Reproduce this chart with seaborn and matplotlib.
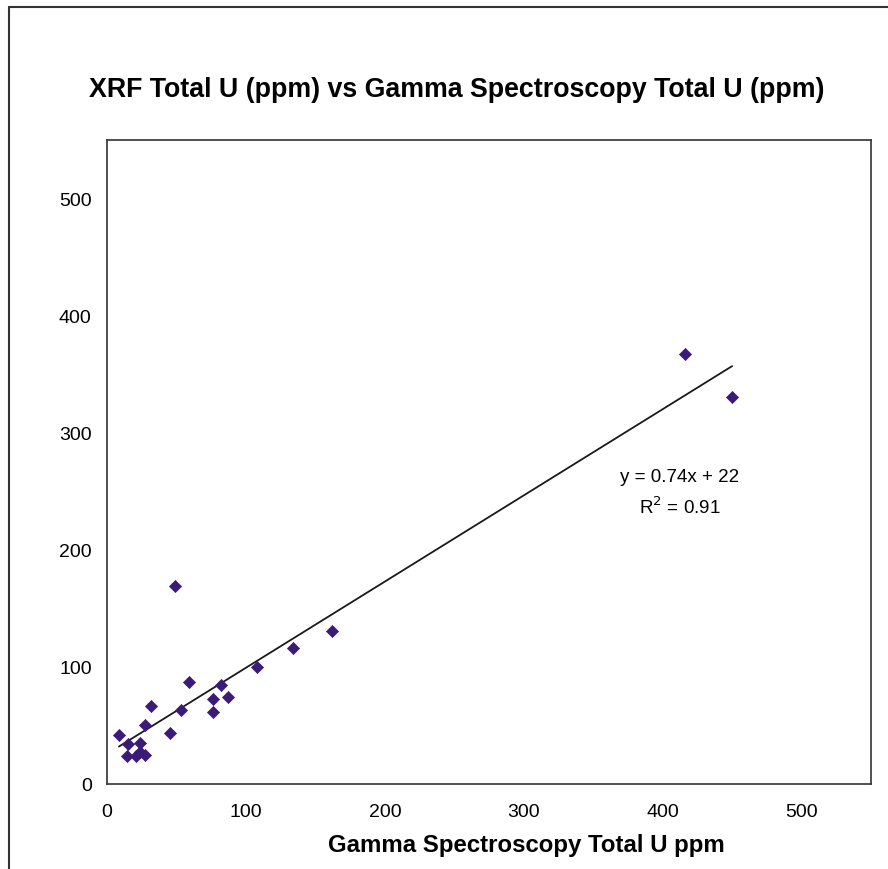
import numpy as np
import pandas as pd
import matplotlib
matplotlib.use('Agg')
import matplotlib.pyplot as plt
from matplotlib.lines import Line2D
import seaborn as sns

# Values
gamma_u = [8.6, 15.1, 14.6, 21.1, 23.5, 23.5, 27.1, 27.1, 31.5, 45.1, 49.0,
           53.5, 59.0, 76.1, 76.1, 82.3, 86.9, 108.2, 134.1, 161.7, 416.1, 450.0]
xrf_u = [41.9, 34.2, 23.7, 23.7, 35.0, 27.0, 24.8, 50.7, 67.0, 43.6, 169.0,
         63.5, 86.9, 72.6, 61.8, 84.6, 74.4, 99.7, 116.2, 130.8, 367.3, 330.8]
tick_values = [0, 100, 200, 300, 400, 500]
fit_label = 'y = 0.74x + 22'
r2_label = 'R$^2$ = 0.91'

df = pd.DataFrame({'gamma': gamma_u, 'xrf': xrf_u})

sns.set_style('white')
plt.rcParams['font.family'] = ['Liberation Sans', 'DejaVu Sans']
plt.rcParams['text.color'] = 'black'
plt.rcParams['xtick.color'] = 'black'
plt.rcParams['ytick.color'] = 'black'
plt.rcParams['axes.labelcolor'] = 'black'

W, H = 888, 870
fig = plt.figure(figsize=(W / 100, H / 100), dpi=100)
ax = fig.add_axes([107 / W, (H - 785) / H, (871 - 107) / W, (785 - 141) / H])

sns.scatterplot(data=df, x='gamma', y='xrf', marker='D', s=38, color='#3b1a78',
                edgecolor='#3b1a78', linewidth=0.5, ax=ax, zorder=3)
sns.regplot(data=df, x='gamma', y='xrf', scatter=False, ci=None, ax=ax,
            line_kws={'color': '#1a1a1a', 'linewidth': 1.3})

ax.set_xlim(0, 550)
ax.set_ylim(0, 550)
ax.set_xticks(tick_values)
ax.set_yticks(tick_values)
ax.tick_params(axis='x', direction='inout', length=8, width=1, labelsize=14, pad=10)
ax.tick_params(axis='y', direction='out', length=5, width=1, labelsize=14, pad=6)
for sp in ax.spines.values():
    sp.set_color('#333333')
    sp.set_linewidth(1.2)

ax.set_xlabel('Gamma Spectroscopy Total U ppm', fontsize=17.3, fontweight='bold')
ax.xaxis.set_label_coords((526 - 107) / 764, (785 - 846) / 644)
ax.xaxis.label.set_va('center')
ax.set_ylabel('')

fig.text((88 + 826) / 2 / W, 1 - 90 / H,
         'XRF Total U (ppm) vs Gamma Spectroscopy Total U (ppm)',
         ha='center', va='center', fontsize=19.3, fontweight='bold')

ax.text(412, 262.6, fit_label, ha='center', va='center', fontsize=13.5)
ax.text(412, 237.4, r2_label, ha='center', va='center', fontsize=13.5)

# outer chart border (left and top only visible)
fig.add_artist(Line2D([9 / W, 9 / W], [0, 1 - 8 / H], transform=fig.transFigure,
                      color='#333333', linewidth=1.5))
fig.add_artist(Line2D([9 / W, 1], [1 - 8 / H, 1 - 8 / H], transform=fig.transFigure,
                      color='#333333', linewidth=1.5))

plt.savefig('out.png', dpi=100)
